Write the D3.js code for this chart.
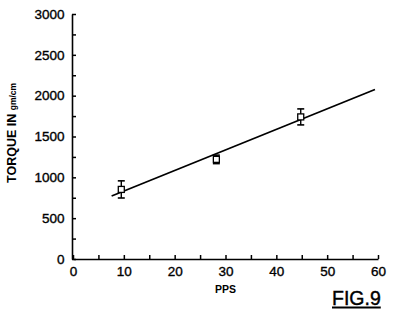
<!DOCTYPE html>
<html>
<head>
<meta charset="utf-8">
<script src="https://cdn.jsdelivr.net/npm/d3@7"></script>
<style>
  body { margin: 0; background: #fff; }
  svg { display: block; }
</style>
</head>
<body>
<div id="chart-area"></div>
<script>
// data
const pps = [9.5, 28.2, 44.8];
const torque = [852, 1220, 1740];
const torqueErr = [105, 52, 98];
const fitX = [7.6, 59.4];
const fitY = [771, 2076];
const xTicks = d3.range(0, 61, 5);
const yTicks = d3.range(0, 3001, 250);

const width = 395;
const height = 318;
const margin = {top: 14, right: 17, bottom: 59, left: 72};

const svg = d3.select("#chart-area")
  .append("svg")
  .attr("width", width)
  .attr("height", height);

const x = d3.scaleLinear()
  .domain([0, 60])
  .range([margin.left + 1, width - margin.right]);

const y = d3.scaleLinear()
  .domain([0, 3000])
  .range([height - margin.bottom, margin.top]);

const font = "'Liberation Sans', Arial, Helvetica, sans-serif";

// axes, ticks pointing inward
const xAxis = svg.append("g")
  .attr("transform", `translate(0, ${y(0)})`)
  .call(d3.axisBottom(x)
    .tickValues(xTicks)
    .tickSize(-4)
    .tickSizeOuter(0)
    .tickPadding(7.4)
    .tickFormat(d => d % 10 === 0 ? d : ""));

const yAxis = svg.append("g")
  .attr("transform", `translate(${margin.left}, 0)`)
  .call(d3.axisLeft(y)
    .tickValues(yTicks)
    .tickSize(-4)
    .tickSizeOuter(0)
    .tickPadding(7.5)
    .tickFormat(d => d % 500 === 0 ? d : ""));

[xAxis, yAxis].forEach(g => {
  g.select(".domain").attr("stroke", "#000").attr("stroke-width", 1.6);
  g.selectAll(".tick line").attr("stroke", "#000").attr("stroke-width", 1.5);
  g.selectAll(".tick text")
    .attr("fill", "#000")
    .attr("stroke", "#000")
    .attr("stroke-width", 0.35)
    .style("font-family", font)
    .style("font-size", "13.5px");
});

// fitted line
const line = d3.line()
  .x(d => x(d[0]))
  .y(d => y(d[1]));

svg.append("path")
  .datum(d3.zip(fitX, fitY))
  .attr("d", line)
  .attr("fill", "none")
  .attr("stroke", "#000")
  .attr("stroke-width", 1.8);

// error bars and square markers
const pts = svg.append("g")
  .selectAll("g")
  .data(d3.range(pps.length))
  .join("g");

pts.append("line")
  .attr("x1", i => x(pps[i]))
  .attr("x2", i => x(pps[i]))
  .attr("y1", i => y(torque[i] + torqueErr[i]))
  .attr("y2", i => y(torque[i] - torqueErr[i]))
  .attr("stroke", "#000")
  .attr("stroke-width", 1.4);

[1, -1].forEach(s => {
  pts.append("line")
    .attr("x1", i => x(pps[i]) - 3.5)
    .attr("x2", i => x(pps[i]) + 3.5)
    .attr("y1", i => y(torque[i] + s * torqueErr[i]))
    .attr("y2", i => y(torque[i] + s * torqueErr[i]))
    .attr("stroke", "#000")
    .attr("stroke-width", 1.6);
});

pts.append("rect")
  .attr("x", i => x(pps[i]) - 3)
  .attr("y", i => y(torque[i]) - 3)
  .attr("width", 6)
  .attr("height", 6)
  .attr("fill", "#fff")
  .attr("stroke", "#000")
  .attr("stroke-width", 1.3);

// axis titles
const yTitle = svg.append("text")
  .attr("transform", `translate(16, 183) rotate(-90)`)
  .style("font-family", font)
  .style("font-weight", "bold")
  .style("font-size", "12.5px")
  .attr("fill", "#000");
yTitle.append("tspan").text("TORQUE IN ");
yTitle.append("tspan").style("font-size", "8.5px").text("gm/cm");

svg.append("text")
  .attr("x", (x(0) + x(60)) / 2)
  .attr("y", 293)
  .attr("text-anchor", "middle")
  .style("font-family", font)
  .style("font-weight", "bold")
  .style("font-size", "10.5px")
  .attr("fill", "#000")
  .text("PPS");

const fig = svg.append("text")
  .attr("x", 332)
  .attr("y", 304.5)
  .style("font-family", font)
  .style("font-size", "19.5px")
  .attr("fill", "#000")
  .attr("stroke", "#000")
  .attr("stroke-width", 0.4)
  .text("FIG.9");

const fb = fig.node().getBBox();
svg.append("line")
  .attr("x1", fb.x)
  .attr("x2", fb.x + fb.width)
  .attr("y1", 307.5)
  .attr("y2", 307.5)
  .attr("stroke", "#000")
  .attr("stroke-width", 2);
</script>
</body>
</html>
